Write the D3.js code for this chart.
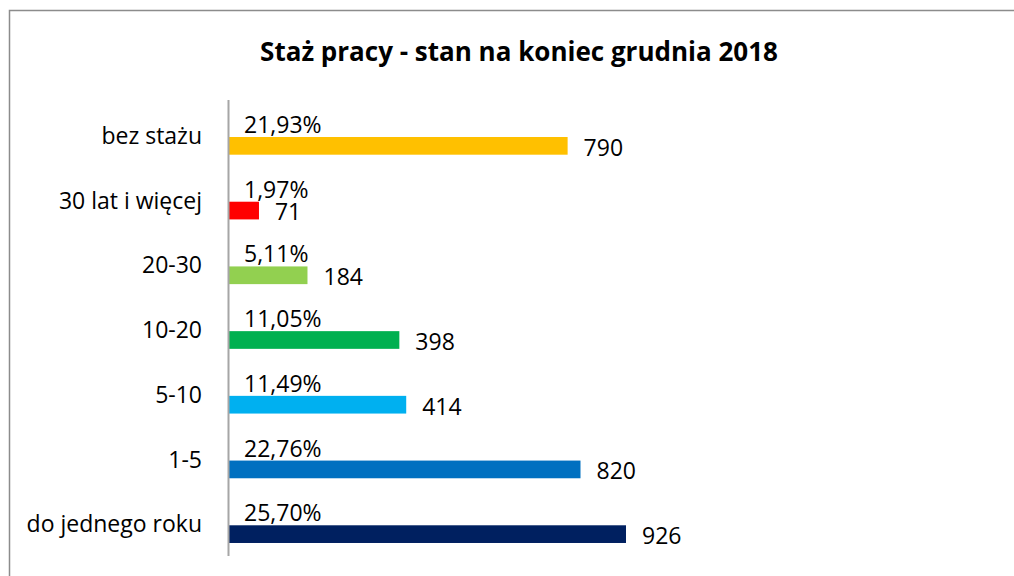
<!DOCTYPE html>
<html>
<head>
<meta charset="utf-8">
<script src="https://cdn.jsdelivr.net/npm/d3@7"></script>
<style>
  html, body { margin: 0; padding: 0; background: #fff; }
  svg { display: block; }
  text { font-family: "Open Sans", "Noto Sans", sans-serif; fill: #000; }
</style>
</head>
<body>
<div id="chart"></div>
<script>
// dane z wykresu
const categories = ["bez stażu", "30 lat i więcej", "20-30", "10-20", "5-10", "1-5", "do jednego roku"];
const counts = [790, 71, 184, 398, 414, 820, 926];
const percents = ["21,93%", "1,97%", "5,11%", "11,05%", "11,49%", "22,76%", "25,70%"];
const colors = ["#FFC000", "#FF0000", "#92D050", "#00B050", "#00B0F0", "#0070C0", "#002060"];

const width = 1014, height = 576;
const axisX = 228.5;

const svg = d3.select("#chart").append("svg")
  .attr("width", width)
  .attr("height", height);

// ramka wykresu (prawa i dolna krawędź poza kadrem)
svg.append("rect")
  .attr("x", 9.5).attr("y", 10.5)
  .attr("width", 1100).attr("height", 700)
  .attr("fill", "none")
  .attr("stroke", "#8c8c8c")
  .attr("stroke-width", 1.5);

svg.append("text")
  .attr("x", 519).attr("y", 61)
  .attr("text-anchor", "middle")
  .style("font-weight", "bold")
  .style("font-size", "26px")
  .text("Staż pracy - stan na koniec grudnia 2018");

const x = d3.scaleLinear()
  .domain([0, 926])
  .range([axisX, 626]);

const y = d3.scaleBand()
  .domain(categories)
  .range([102, 555]);

const barH = 17.7;
const barOff = 35;

const rows = categories.map((c, i) => ({ cat: c, n: counts[i], pct: percents[i], color: colors[i] }));

svg.append("g")
  .selectAll("rect")
  .data(rows)
  .join("rect")
  .attr("x", axisX)
  .attr("y", d => y(d.cat) + barOff)
  .attr("width", d => x(d.n) - axisX)
  .attr("height", barH)
  .attr("fill", d => d.color);

// oś pionowa
svg.append("line")
  .attr("x1", axisX).attr("x2", axisX)
  .attr("y1", 100).attr("y2", 556)
  .attr("stroke", "#a6a6a6")
  .attr("stroke-width", 2);

// etykiety kategorii
svg.append("g")
  .selectAll("text")
  .data(rows)
  .join("text")
  .attr("x", 202)
  .attr("y", d => y(d.cat) + barOff + 7)
  .attr("text-anchor", "end")
  .style("font-size", "23px")
  .text(d => d.cat);

// procenty nad słupkami
svg.append("g")
  .selectAll("text")
  .data(rows)
  .join("text")
  .attr("x", 244)
  .attr("y", d => y(d.cat) + barOff - 4)
  .style("font-size", "23px")
  .text(d => d.pct);

// liczby za słupkami
svg.append("g")
  .selectAll("text")
  .data(rows)
  .join("text")
  .attr("x", d => x(d.n) + 16)
  .attr("y", d => y(d.cat) + barOff + barH + 1)
  .style("font-size", "23px")
  .text(d => d.n);
</script>
</body>
</html>
